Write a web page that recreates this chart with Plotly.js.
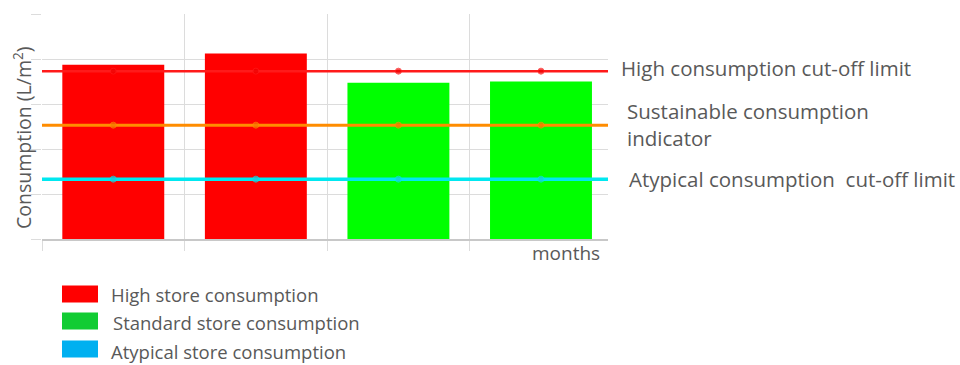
<!DOCTYPE html>
<html><head><meta charset="utf-8">
<script src="https://cdn.plot.ly/plotly-3.0.1.min.js"></script>
<style>html,body{margin:0;padding:0;background:#fff;}#chart{width:960px;height:365px;}</style>
</head><body><div id="chart"></div>
<script>
// ---- data ----
const months = [0, 1, 2, 3];
const storeConsumption = [3.87, 4.12, 3.47, 3.50];
const storeClass = ["high", "high", "standard", "standard"];
const highCutoff = 3.73;
const sustainableIndicator = 2.53;
const atypicalCutoff = 1.33;
const lineLabels = ["High consumption cut-off limit", "Sustainable consumption<br>indicator", "Atypical consumption  cut-off limit"];
const legendLabels = ["High store consumption", "Standard store consumption", "Atypical store consumption"];
const yTitle = "Consumption (L/m<sup>2</sup>)";
const xTitle = "months";

// ---- styling ----
const barColors = {high: "#ff0000", standard: "#00ff00", atypical: "#00b0f0"};
const legendColors = ["#ff0000", "#11cc33", "#00b0f0"];
const textColor = "#595959";
const font = "'Open Sans', sans-serif";

const L = 42, R = 608, T = 14, B = 239, W = 960, H = 365;
const px = x => (x - L) / (R - L);
const py = y => (B - y) / (B - T);

const lineExt = [-0.5].concat(months, [3.6]);
function limitTrace(val, lineColor, markerColor, width) {
  return {
    type: "scatter", mode: "lines+markers",
    x: lineExt, y: lineExt.map(() => val),
    line: {color: lineColor, width: width},
    marker: {color: markerColor, size: lineExt.map((_, i) => (i === 0 || i === lineExt.length - 1) ? 0 : 6)},
    hoverinfo: "skip", showlegend: false, cliponaxis: true
  };
}

const traces = [
  {type: "bar", x: months, y: storeConsumption, width: 0.715,
   marker: {color: storeClass.map(c => barColors[c])}, showlegend: false},
  limitTrace(highCutoff, "#ff1a1a", "#f00000", 2.5),
  limitTrace(sustainableIndicator, "#ff8c00", "#f27a00", 3),
  limitTrace(atypicalCutoff, "#00e8f0", "#20c8d8", 3.5)
];

function ann(text, x, y, size, xanchor, extra) {
  return Object.assign({text: text, x: px(x), y: py(y), xref: "paper", yref: "paper",
    xanchor: xanchor, yanchor: "middle", showarrow: false, align: "left",
    font: {family: font, size: size, color: textColor}}, extra || {});
}

const annotations = [
  ann(yTitle, 22, 138, 19.5, "center", {textangle: -90}),
  ann(xTitle, 602, 253, 19, "right"),
  ann(lineLabels[0], 619, 68, 20.5, "left"),
  ann(lineLabels[1], 625, 124, 20.5, "left"),
  ann(lineLabels[2], 627, 179, 20.5, "left")
];
const legY = [294, 321, 349];
const legTextX = [109, 111, 109];
const legTextY = [294, 322, 351];
const shapes = [];
legendLabels.forEach((lab, i) => {
  shapes.push({type: "rect", xref: "paper", yref: "paper", x0: px(62), x1: px(98),
    y0: py(legY[i] - 8.5), y1: py(legY[i] + 8.5), fillcolor: legendColors[i], line: {width: 0}});
  annotations.push(ann(lab, legTextX[i], legTextY[i], 18.5, "left"));
});

const layout = {
  width: W, height: H,
  margin: {l: L, r: W - R, t: T, b: H - B, pad: 0},
  paper_bgcolor: "#fff", plot_bgcolor: "#fff",
  showlegend: false,
  xaxis: {range: [-0.5, 3.47], tickvals: [-0.5, 0.5, 1.5, 2.5], showticklabels: false,
          showgrid: true, gridcolor: "#dcdcdc", gridwidth: 1, ticks: "outside", ticklen: 10, tickcolor: "#dcdcdc",
          zeroline: false, showline: true, linecolor: "#c8c8c8", linewidth: 1.5},
  yaxis: {range: [0, 5], tickvals: [0, 1, 2, 3, 4, 5], showticklabels: false,
          showgrid: true, gridcolor: "#dcdcdc", gridwidth: 1, ticks: "outside", ticklen: 10, tickcolor: "#dcdcdc",
          zeroline: false, showline: false},
  annotations: annotations, shapes: shapes
};
Plotly.newPlot("chart", traces, layout, {displayModeBar: false, staticPlot: true});
</script></body></html>
